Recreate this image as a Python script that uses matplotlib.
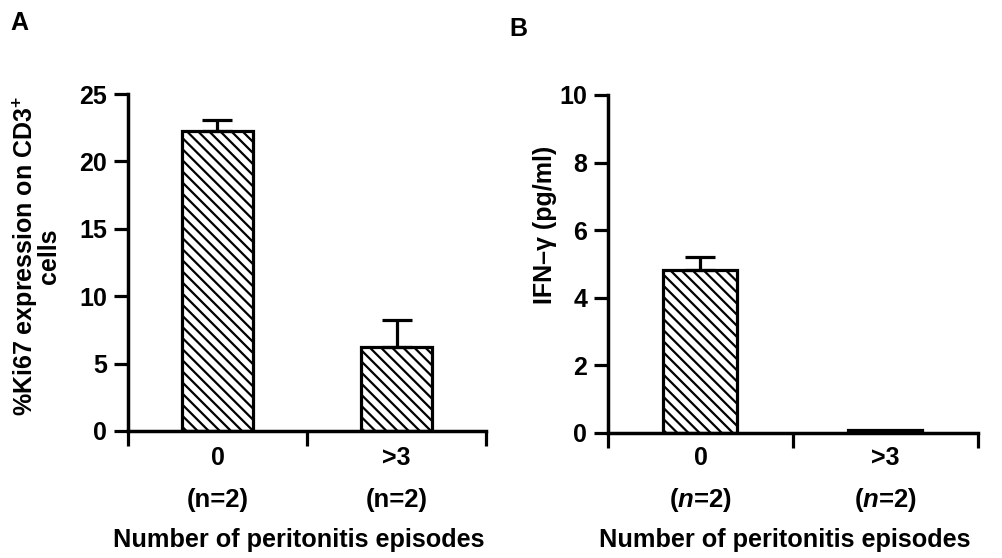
import matplotlib
matplotlib.use("Agg")
import matplotlib.pyplot as plt
from matplotlib.transforms import blended_transform_factory

# Data
categories = ["0", ">3"]
n_labels = ["(n=2)", "(n=2)"]
ki67_mean = [22.25, 6.2]
ki67_err = [0.82, 2.05]
ifn_mean = [4.82, 0.08]
ifn_err = [0.38, 0.0]
ki67_ticks = [0, 5, 10, 15, 20, 25]
ifn_ticks = [0, 2, 4, 6, 8, 10]

plt.rcParams['font.family'] = ['Liberation Sans', 'DejaVu Sans']
plt.rcParams['font.weight'] = 'bold'
plt.rcParams['mathtext.fontset'] = 'custom'
plt.rcParams['mathtext.it'] = 'Liberation Sans:italic:bold'
plt.rcParams['mathtext.rm'] = 'Liberation Sans:bold'
plt.rcParams['mathtext.bf'] = 'Liberation Sans:bold'
plt.rcParams['hatch.linewidth'] = 1.6

W, H = 1003, 558
fig = plt.figure(figsize=(W/100, H/100), dpi=100)

axA = fig.add_axes([128/W, 1-431/H, (486-128)/W, (431-94)/H])
axB = fig.add_axes([608/W, 1-433/H, (978-608)/W, (433-95)/H])

xpos = [0.5, 1.5]
FS = 18
LW = 2.3

def style(ax, ymax, yticks, means, errs):
    ax.bar(xpos, means, width=0.4, color='white', edgecolor='black',
           linewidth=LW, hatch='\\\\\\', zorder=2)
    for x, m, e in zip(xpos, means, errs):
        if e > 0:
            ax.errorbar([x], [m], yerr=[[0], [e]], fmt='none', ecolor='black',
                        elinewidth=LW, capsize=11, capthick=LW, zorder=3)
    ax.set_xlim(0, 2)
    ax.set_ylim(0, ymax)
    ax.set_yticks(yticks)
    ax.set_yticklabels([str(t) for t in yticks], fontsize=FS, fontweight='bold')
    ax.set_xticks([0, 1, 2])
    ax.set_xticklabels([])
    ax.tick_params(axis='y', direction='out', length=10, width=LW, pad=5)
    ax.tick_params(axis='x', direction='out', length=11, width=LW)
    for s in ['top', 'right']:
        ax.spines[s].set_visible(False)
    for s in ['left', 'bottom']:
        ax.spines[s].set_linewidth(2.5)
    ax.patch.set_alpha(0)

style(axA, 25, ki67_ticks, ki67_mean, ki67_err)
style(axB, 10, ifn_ticks, ifn_mean, ifn_err)

for ax, italic in [(axA, False), (axB, True)]:
    tr = blended_transform_factory(ax.transData, fig.transFigure)
    for x, c, n in zip(xpos, categories, n_labels):
        ax.text(x, 1-458/H, c, transform=tr, ha='center', va='center',
                fontsize=FS, fontweight='bold')
        lab = n if not italic else n.replace("n", r"$n$")
        ax.text(x, 1-500/H, lab, transform=tr, ha='center', va='center',
                fontsize=FS + 0.5, fontweight='bold')
    ax.text(0.955, 1-540/H, "Number of peritonitis episodes",
            transform=tr, ha='center', va='center', fontsize=FS + 0.2,
            fontweight='bold')

fig.text(36/W, 1-256/H, "%Ki67 expression on CD3$^{+}$\ncells", rotation=90,
         ha='center', va='center', fontsize=FS, fontweight='bold',
         linespacing=0.85)
fig.text(545/W, 1-225/H, "IFN\u2013\u03b3 (pg/ml)", rotation=90,
         ha='center', va='center', fontsize=FS, fontweight='bold')

fig.text(19/W, 1-23/H, "A", ha='center', va='center', fontsize=FS, fontweight='bold')
fig.text(518/W, 1-29/H, "B", ha='center', va='center', fontsize=FS, fontweight='bold')

fig.savefig("out.png", dpi=100)
